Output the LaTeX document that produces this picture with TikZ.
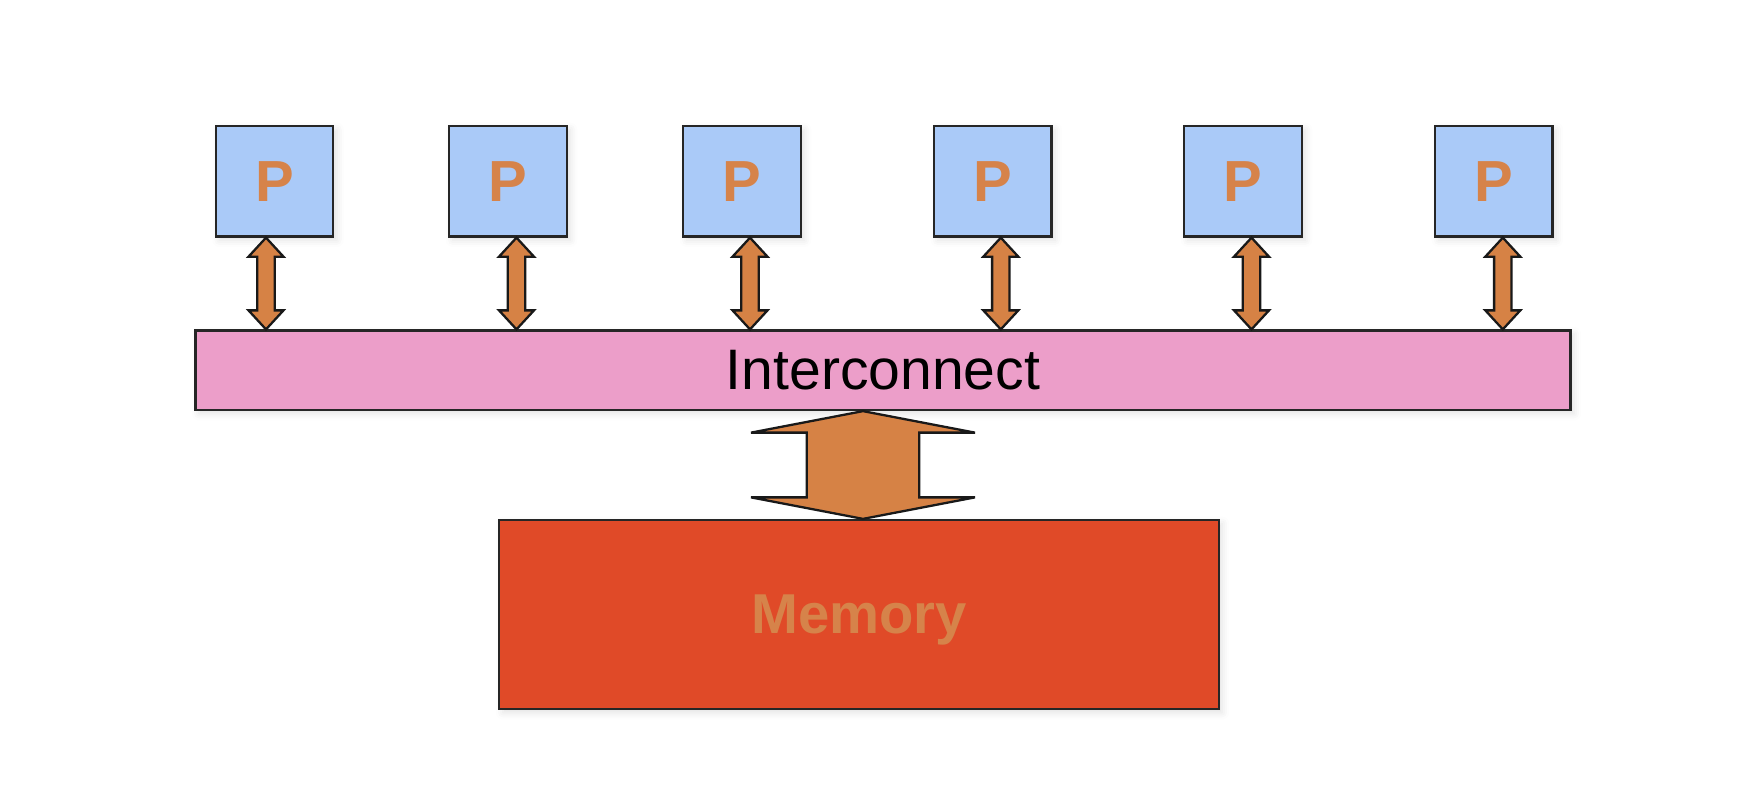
\documentclass[tikz,border=0pt]{standalone}
\usepackage{fontspec}
\setmainfont{Liberation Sans}
\usepackage{xcolor}
\definecolor{colorProc}{HTML}{AACAF8}
\definecolor{colorBus}{HTML}{EC9EC9}
\definecolor{colorMem}{HTML}{E04A28}
\definecolor{colorLink}{HTML}{D68245}
\definecolor{colorLabel}{HTML}{D6834A}
\usepackage{tikz}
\usetikzlibrary{calc, shadows.blur}
\tikzset{soft shadow/.style={blur shadow={shadow xshift=2pt, shadow yshift=-2pt, shadow blur radius=4pt, shadow opacity=12}}}
% #1 top tip, #2 bottom tip, #3 half head, #4 half shaft, #5 head length
\newcommand{\linkarrow}[5]{%
\draw [link] (#1) -- ($(#1)+(#3,#5)$) -- ($(#1)+(#4,#5)$) -- ($(#2)+(#4,-#5)$) -- ($(#2)+(#3,-#5)$) -- (#2)
  -- ($(#2)+(-#3,-#5)$) -- ($(#2)+(-#4,-#5)$) -- ($(#1)+(-#4,#5)$) -- ($(#1)+(-#3,#5)$) -- cycle;}

\begin{document}
\begin{tikzpicture}[x=0.02cm, y=-0.02cm, line width=1.3pt,
  proc/.style={draw=black!85, fill=colorProc, soft shadow, minimum width=2.35cm, minimum height=2.21cm, inner sep=0pt, text=colorLabel, font=\fontsize{33}{36}\selectfont\bfseries},
  bus/.style={draw=black!85, fill=colorBus, soft shadow, minimum width=27.51cm, minimum height=1.59cm, inner sep=0pt, font=\fontsize{32.5}{36}\selectfont},
  mem/.style={draw=black!85, fill=colorMem, soft shadow, minimum width=14.39cm, minimum height=3.78cm, inner sep=0pt, text depth=0pt, text=colorLabel, font=\fontsize{32}{36}\selectfont\bfseries},
  link/.style={draw=black!90, fill=colorLink, line join=miter}]
\useasboundingbox (0,0) rectangle (1743,807);
\node[proc] (p1) at (274.5,181.3) {P};
\node[proc] (p2) at (508,181.3) {P};
\node[proc] (p3) at (742,181.3) {P};
\node[proc] (p4) at (992.8,181.3) {P};
\node[proc] (p5) at (1243,181.3) {P};
\node[proc] (p6) at (1493.8,181.3) {P};
\node[bus] (bus) at (883,370.25) {Interconnect};
\node[mem] (mem) at (859,614.5) {Memory};
\coordinate (l1t) at ($(p1.south)+(-8.5,0)$); \coordinate (l1b) at (l1t |- bus.north);
\coordinate (l2t) at ($(p2.south)+(8.5,0)$); \coordinate (l2b) at (l2t |- bus.north);
\coordinate (l3t) at ($(p3.south)+(8,0)$); \coordinate (l3b) at (l3t |- bus.north);
\coordinate (l4t) at ($(p4.south)+(8,0)$); \coordinate (l4b) at (l4t |- bus.north);
\coordinate (l5t) at ($(p5.south)+(8.5,0)$); \coordinate (l5b) at (l5t |- bus.north);
\coordinate (l6t) at ($(p6.south)+(9,0)$); \coordinate (l6b) at (l6t |- bus.north);
\coordinate (mt) at ($(bus.south)+(-20,0)$); \coordinate (mb) at (mt |- mem.north);
\linkarrow{l1t}{l1b}{17.5}{8.7}{19}
\linkarrow{l2t}{l2b}{17.5}{8.7}{19}
\linkarrow{l3t}{l3b}{17.5}{8.7}{19}
\linkarrow{l4t}{l4b}{17.5}{8.7}{19}
\linkarrow{l5t}{l5b}{17.5}{8.7}{19}
\linkarrow{l6t}{l6b}{17.5}{8.7}{19}
\linkarrow{mt}{mb}{112}{56.3}{21.5}
\end{tikzpicture}
\end{document}
